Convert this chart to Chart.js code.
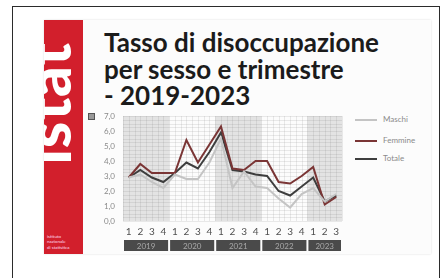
<!DOCTYPE html>
<html lang="it">
<head>
<meta charset="utf-8">
<script src="https://cdn.jsdelivr.net/npm/chart.js@4.4.0/dist/chart.umd.min.js"></script>
<style>
body { margin: 0; width: 445px; height: 278px; background: #fff; overflow: hidden; position: relative; font-family: Lato, "Open Sans", sans-serif; }
.frame { position: absolute; left: 12px; top: 6px; width: 428px; height: 300px; border: 1.5px solid #2b2b2b; box-sizing: border-box; }
.slide { position: absolute; left: 44px; top: 20px; width: 387px; height: 234px; background: #fcfcfc; box-shadow: 0 0 2px #ddd; }
.logo { position: absolute; left: 44px; top: 20px; width: 39px; height: 234px; background: #d21f2c; overflow: hidden; }
.logo .word { position: absolute; left: -26px; top: 22px; writing-mode: vertical-rl; transform: rotate(180deg); font: 900 60px Lato; line-height: 60px; color: #fff; letter-spacing: 1px; }
.logo .small { position: absolute; left: 3px; bottom: 4px; font: 4.5px Lato; line-height: 5.5px; color: #fde; }
.title { position: absolute; left: 104px; top: 29px; font: 700 26px Lato; line-height: 26.5px; color: #1b1b1b; white-space: nowrap; }
.icon { position: absolute; left: 88px; top: 113px; width: 5px; height: 5px; background: #999; border: 1px solid #555; }
.legend { position: absolute; left: 355px; font: 8px Lato; color: #8a8a8a; white-space: nowrap; }
.legend span { display: inline-block; width: 22px; height: 2px; vertical-align: middle; margin-right: 6px; }
canvas { position: absolute; left: 0; top: 0; }
</style>
</head>
<body>
<div class="frame"></div>
<div class="slide"></div>
<div class="logo">
  <div class="word">istat</div>
  <div class="small">istituto<br>nazionale<br>di statistica</div>
</div>
<div class="title">Tasso di disoccupazione<br>per sesso e trimestre<br>- 2019-2023</div>
<div class="icon"></div>
<div class="legend" style="top:114px"><span style="background:#c4c4c4"></span>Maschi</div>
<div class="legend" style="top:135px"><span style="background:#7a3535"></span>Femmine</div>
<div class="legend" style="top:153px"><span style="background:#3e3e3e"></span>Totale</div>
<canvas id="grafico" width="445" height="278"></canvas>
<script>
// trimestri 2019 Q1 - 2023 Q3
const trimestri = ['1', '2', '3', '4', '1', '2', '3', '4', '1', '2', '3', '4', '1', '2', '3', '4', '1', '2', '3'];
const anni = ['2019', '2020', '2021', '2022', '2023'];
const trimestriPerAnno = [4, 4, 4, 4, 3];

const maschi  = [2.9, 3.1, 2.6, 2.2, 3.1, 2.8, 2.8, 3.9, 5.5, 2.2, 3.3, 2.3, 2.2, 1.5, 0.9, 1.8, 2.2, 1.3, 1.8];
const femmine = [2.9, 3.8, 3.2, 3.2, 3.2, 5.4, 3.9, 5.1, 6.3, 3.5, 3.4, 4.0, 4.0, 2.6, 2.5, 3.0, 3.6, 1.1, 1.6];
const totale  = [2.9, 3.4, 2.9, 2.6, 3.2, 3.9, 3.5, 4.6, 5.9, 3.4, 3.3, 3.1, 3.0, 2.0, 1.7, 2.3, 2.9, 1.3, 1.7];

// fasce grigie alternate per anno + griglia fitta
const sfondo = {
    id: 'sfondo',
    beforeDatasetsDraw(chart) {
        const ctx = chart.ctx;
        const area = chart.chartArea;
        const x = chart.scales.x;
        const y = chart.scales.y;
        const passo = x.getPixelForValue(1) - x.getPixelForValue(0);
        ctx.save();
        let inizio = 0;
        trimestriPerAnno.forEach(function (n, i) {
            if (i % 2 === 0) {
                const sx = x.getPixelForValue(inizio) - passo / 2;
                const dx = x.getPixelForValue(inizio + n - 1) + passo / 2;
                ctx.fillStyle = '#e3e3e3';
                ctx.fillRect(sx, area.top, dx - sx, area.bottom - area.top);
            }
            inizio += n;
        });
        ctx.strokeStyle = 'rgba(120,120,120,0.15)';
        ctx.lineWidth = 1;
        ctx.beginPath();
        for (let v = 0; v <= 7.001; v += 0.25) {
            const py = Math.round(y.getPixelForValue(v)) + 0.5;
            ctx.moveTo(area.left, py);
            ctx.lineTo(area.right, py);
        }
        for (let i = -0.5; i <= trimestri.length - 0.5; i += 0.5) {
            const px = Math.round(x.getPixelForValue(0) + i * passo) + 0.5;
            ctx.moveTo(px, area.top);
            ctx.lineTo(px, area.bottom);
        }
        ctx.stroke();
        ctx.restore();
    },
    afterDraw(chart) {
        const ctx = chart.ctx;
        const x = chart.scales.x;
        const passo = x.getPixelForValue(1) - x.getPixelForValue(0);
        ctx.save();
        ctx.font = '8px Lato';
        ctx.textAlign = 'center';
        ctx.textBaseline = 'middle';
        let inizio = 0;
        trimestriPerAnno.forEach(function (n, i) {
            const sx = x.getPixelForValue(inizio) - passo / 2 + 1;
            const dx = x.getPixelForValue(inizio + n - 1) + passo / 2 - 1;
            ctx.fillStyle = '#4a4a4a';
            ctx.fillRect(sx, 240, dx - sx, 11);
            ctx.fillStyle = '#a8a8a8';
            ctx.fillText(anni[i], (sx + dx) / 2, 246);
            inizio += n;
        });
        ctx.restore();
    }
};

new Chart(document.getElementById('grafico'), {
    type: 'line',
    data: {
        labels: trimestri,
        datasets: [
            { label: 'Maschi', data: maschi, borderColor: '#c4c4c4', borderWidth: 2, pointRadius: 0, tension: 0 },
            { label: 'Femmine', data: femmine, borderColor: '#7a3535', borderWidth: 2, pointRadius: 0, tension: 0 },
            { label: 'Totale', data: totale, borderColor: '#3e3e3e', borderWidth: 2, pointRadius: 0, tension: 0 }
        ]
    },
    options: {
        responsive: false,
        animation: false,
        devicePixelRatio: 1,
        layout: { padding: { top: 116, right: 103, bottom: 0, left: 0 } },
        plugins: {
            legend: { display: false },
            tooltip: { enabled: false }
        },
        scales: {
            x: {
                offset: true,
                grid: { display: false, drawTicks: false },
                border: { display: false },
                ticks: { autoSkip: false, maxRotation: 0, padding: 5, color: '#505050', font: { family: 'Lato', size: 10 } },
                afterFit: function (scale) { scale.height = 57; }
            },
            y: {
                min: 0,
                max: 7,
                grid: { display: false, drawTicks: false },
                border: { display: false },
                ticks: {
                    stepSize: 1,
                    padding: 8,
                    color: '#8a8a8a',
                    font: { family: 'Lato', size: 8 },
                    callback: function (v) { return v.toFixed(1).replace('.', ','); }
                },
                afterFit: function (scale) { scale.width = 123; }
            }
        }
    },
    plugins: [sfondo]
});
</script>
</body>
</html>
